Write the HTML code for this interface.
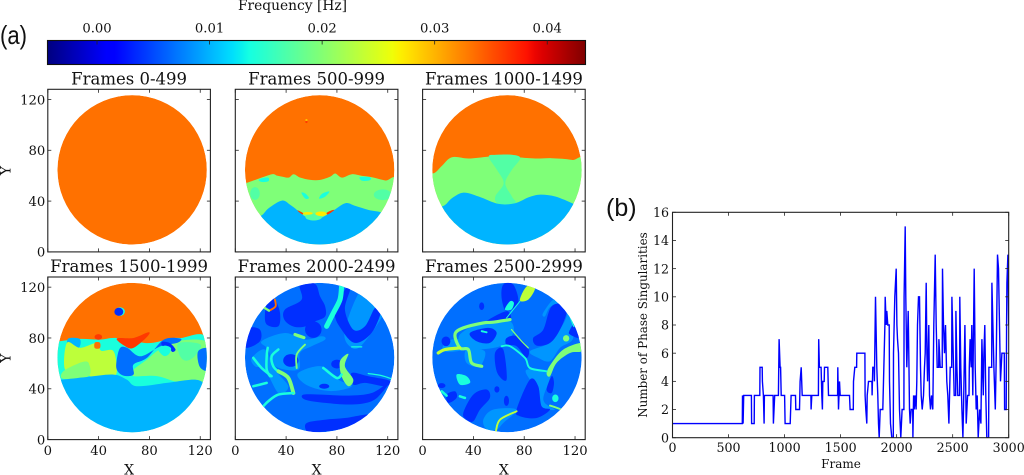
<!DOCTYPE html>
<html>
<head>
<meta charset="utf-8">
<title>Frequency maps and phase singularities</title>
<style>
html,body{margin:0;padding:0;background:#fff;width:1024px;height:475px;overflow:hidden}
svg{display:block;position:absolute;left:0;top:0}
text{font-family:"DejaVu Serif","Liberation Serif",serif;fill:#111}
.sans{font-family:"Liberation Sans","DejaVu Sans",sans-serif}
</style>
</head>
<body>
<svg id="fig" width="1024" height="475" viewBox="0 0 1024 475" xmlns="http://www.w3.org/2000/svg">
<defs id="defs"></defs>
<text class="sans" x="0" y="44" font-size="26" textLength="27" lengthAdjust="spacingAndGlyphs">(a)</text>
<text class="sans" x="606" y="216" font-size="25">(b)</text>
<text x="292.5" y="10" font-size="13.8" text-anchor="middle">Frequency [Hz]</text>
</svg>
<script>
// ---------- colour scale values ----------
var colorbarTicks = [0.00, 0.01, 0.02, 0.03, 0.04];
var colorbarRange = [-0.0044, 0.0434];

// frequency levels seen in the maps (Hz)
var ORANGE = 0.0334, REDORANGE = 0.0362, YELLOW = 0.0272, LIME = 0.0233, GREEN = 0.0197,
    TEAL = 0.0171, CYAN = 0.0138, SKY = 0.0100, LIGHT = 0.0086, BLUE = 0.0068, DARK = 0.0038;

// ---------- map panels: region outlines in data coordinates (X, Y) ----------
var panelTitles = ["Frames 0-499","Frames 500-999","Frames 1000-1499","Frames 1500-1999","Frames 2000-2499","Frames 2500-2999"];
var panelBase = [ORANGE, ORANGE, ORANGE, ORANGE, BLUE, BLUE];
var mapTicks = [0, 40, 80, 120];

var regions0 = [];

var regions1 = [
 ['p',GREEN,[0,54,7.9,54.1,18.4,57.7,28.9,61.2,32.8,60.1,36.7,59.3,42,58.5,45.9,61.2,51.2,58.5,59.1,56.7,66.9,56.7,74.8,59.3,78.7,61.7,84,58.5,91.9,61.2,99.7,59.8,107.6,58.8,118.1,56.2,128,54.6,128,0,0,0]],
 ['p',SKY,[0,27.8,18.4,27.8,26.2,34.4,36.7,40.4,43.3,37,48.6,33,55.1,27.8,61.7,24.7,69.6,27.8,76.1,31.8,86.6,38.3,94.5,36.2,105,33,115.5,30.9,128,25.2,128,0,0,0]],
 ['e',TEAL,[61.7,27.5,6.5,2.8]],
 ['e',TEAL,[15.5,46,3.8,5]],
 ['e',TEAL,[116,45,7,4.2]],
 ['e',YELLOW,[57,30.3,4,1.1]],
 ['e',YELLOW,[67.5,30,4.5,1.8]],
 ['p',REDORANGE,[49,32.8,53,30.8,53,29.5,50.5,31]],
 ['p',REDORANGE,[73,29.5,78,33,75.5,32.6,72,30.8]],
 ['p',CYAN,[18.4,56.5,21,58,26,58.4,26,55.6,21,55]],
 ['p',CYAN,[98,58.8,106,58.8,106,56.5,100,56]],
 ['p',CYAN,[52,46.5,55,46,58,42.5,55,42]],
 ['p',CYAN,[66,42,70,43,74,47,72.5,47.5,68,45.5]],
 ['e',REDORANGE,[56,102.4,0.9,1]],
 ['e',YELLOW,[56,103.8,0.9,0.6]]
];

var regions2 = [
 ['p',GREEN,[0,61.9,8.7,61.9,15.2,67.7,23.1,74.5,36.2,73.5,52,75,67.7,76.4,75.6,74.5,88.7,73.5,101.8,73.8,117.6,72.4,128,68.5,128,0,0,0]],
 ['p',TEAL,[52,75,58.5,76.4,70.3,76.4,76.9,73.8,70.3,64.6,65.1,54.1,70.3,43.6,72.9,38.3,59.8,37.8,57.2,43.6,63.8,54.1,58.5,64.6]],
 ['p',SKY,[0,35.7,15.2,35.7,23.1,42.3,32.3,46.7,44.1,43.6,59.8,37.8,72.9,38.3,83.5,43,92.7,45.1,104.5,43.6,118.9,37.8,128,33,128,0,0,0]]
];

var regions3 = [
 ['p',CYAN,[0,77.4,8.4,77.4,25.4,79.3,41.2,78.7,54.3,80,78,76,93.8,78.7,104.2,80,128,76,128,0,0,0]],
 ['p',SKY,[16,79.5,25,79.3,25,73,20,71.5,16,73]],
 ['p',LIME,[15,76.1,25.4,72.2,38.6,76.1,42,70,51.7,69.6,54.3,53.1,49.1,49.9,33.3,49.9,32,60.4,25.4,60.4,13.6,55.1]],
 ['p',GREEN,[12.3,53.8,25.4,60.4,32,60.4,32,49.9,12.3,47.8]],
 ['p',GREEN,[67.5,55,78,63,88,71,104,78,128,75,128,45,104,45,86,50,67.5,50]],
 ['p',TEAL,[103,76,120,75,116,66,109,62,104,66]],
 ['p',BLUE,[57,72.2,54.3,63,54.3,55.1,59.6,50.4,67.5,51.2,67.5,59.1,78,64.3,91.3,78.7,104.5,79.5,101.8,76.1,88.7,73.5,73,65.6,62.5,72.2]],
 ['p',DARK,[90,77,96,76,100.5,71,98,69,95,73,90,74]],
 ['p',CYAN,[87,71,92,74,97,72,95,67,91,66]],
 ['p',BLUE,[118.6,70,128,71,128,55,122,55,118.6,60]],
 ['p',SKY,[0,47,11,47.2,30.7,49.3,51.7,51.2,62.2,47.2,70,42,93.7,44.6,114.7,47.2,123,44.6,128,40,128,0,0,0]],
 ['p',ORANGE,[37,72,41,72,41,76.3,37,76.3]],
 ['p',REDORANGE,[54.3,79.5,67.5,80,79.3,84.5,78,80.8,67.5,72.2,60.9,73.5]],
 ['e',REDORANGE,[39.8,80.8,3,2.2]],
 ['e',CYAN,[56.8,100.8,3.9,3.4]],
 ['e',DARK,[55.9,100.6,3.5,3.2]]
];

var regions4 = [
 ['p',LIGHT,[99,118,110,110,118,102,101,76,92,72,86,85]],
 ['p',DARK,[86.3,118.1,78.4,99.7,83.7,86.6,94.2,76.1,107.3,84,115.2,102.4,110,103.7,102.1,89.2,92.9,86.6,86.3,102.4,90.3,118.1]],
 ['p',DARK,[50.9,122,62.7,122.7,66.7,112.8,70.7,104.9,70.7,96.9,62.7,93,54.9,89,45.7,89,38.6,94.5,39.1,102.4,52.2,110.2]],
 ['p',DARK,[26,110.2,31.2,110.2,35.2,99.7,33.9,89.2,24.7,90.6,23.4,99.7]],
 ['p',DARK,[10.2,87.9,19.4,86.6,19.4,77.4,8.9,72.2,6,78.7]],
 ['p',LIGHT,[20.7,77.4,39.1,83.9,54.9,78.7,68,81.4,70.7,78.7,60.1,73.5,50.9,68.2,49.6,55.1,31.2,57.7,26,70.9]],
 ['p',LIGHT,[49.6,52.5,68,57.7,81.1,47.2,91.6,42,78.4,38.3,65.3,39.6,53.5,44.6]],
 ['p',LIGHT,[12.9,64,23.4,70.9,31.2,55.1,41.7,41.9,33.9,36.7,23.4,55.1,15.5,57.7]],
 ['e',DARK,[61.4,86.6,6.5,6.5]],
 ['e',DARK,[43.7,62.3,6,5]],
 ['e',DARK,[80,59.5,4.5,3.5]],
 ['e',DARK,[70,42,4,2]],
 ['p',DARK,[53.5,35.4,68,35.4,89,34.6,107.3,36.7,120.5,44.6,115.2,36.7,107.3,30.2,91.6,27.6,70.7,28.9,54.9,31.5]],
 ['p',DARK,[56.2,13.1,70.7,15.7,86.3,17,104.7,19.7,96.9,13.1,81.1,7.9,62.7,5.8,56.2,6.6]],
 ['p',DARK,[91.6,52.5,104.7,49.9,121.8,46.2,117.9,42,102.1,44.6,92.9,43.3]],
 ['p',GREEN,[82.4,61.7,89,67.5,86.3,57.7,92.9,47.2,89,42,83.7,49.9]],
 ['l',CYAN,[83.7,120.5,82.4,110.2,77.2,99.7,71.9,89.2],4],
 ['l',ORANGE,[31.2,110.2,31.7,104.9,27.3,101.8],1.5],
 ['l',GREEN,[22.5,104,26.5,101.5],1.8],
 ['l',GREEN,[47,82.7,54,80.3],2.5],
 ['l',CYAN,[25.5,72.2,24.7,65.6,24.7,55.1,27.3,49.9],2],
 ['l',CYAN,[33.9,70.9,28.6,65.6,29.9,57.7,35.2,52.5],2],
 ['l',CYAN,[14.2,64.3,20.7,56.4,28.6,49.9],2],
 ['l',GREEN,[33.9,53.8,41.7,48.6,45.7,36.7],3],
 ['l',CYAN,[45.7,36.7,33.9,35.4,26,30.2,22,26.2],2],
 ['l',CYAN,[14.2,42,24.7,44.6],2],
 ['l',CYAN,[69.3,56.4,79.8,48.6,83.7,51.2],2],
 ['l',CYAN,[104.7,52,115.2,50.4,123.1,47.8],1],
 ['l',CYAN,[91.6,73,99.5,73],1],
 ['l',GREEN,[54.9,74.8,48.3,66.9,48.3,56.4],1.5]
];

var regions5 = [
 ['p',LIGHT,[29.4,82.7,42.5,90.6,55.6,91.9,68.8,93.2,71.4,84,60.9,73.5,37.3,70.9,29.4,74.8]],
 ['p',LIGHT,[34.6,70.9,49,69.5,45,57.7,34.6,60.4]],
 ['p',LIGHT,[95,100,105.5,111.5,116,99.7,118.6,80,108.2,72.2,100.3,61.7,91,64.3,84.5,69.5,100.3,76.1,108.2,86.6,113.4,99.7,101.6,105,96.3,97]],
 ['p',LIGHT,[82,55.1,100.3,52.5,95,31.5,104.2,23.6,93.7,26.2,91,42,84.5,47.2]],
 ['p',LIGHT,[47.8,15.7,55.6,23.6,74,23.6,63.5,13.1,58.3,7.9,50.4,7.9]],
 ['p',LIGHT,[18.9,77.4,29.4,78.7,32,70.9,16.3,69.5]],
 ['p',DARK,[63.5,122,71.4,122,75.3,107.6,66.1,101,62.2,111.5]],
 ['p',DARK,[50,93,66,101,69,94,56,92]],
 ['p',DARK,[87.1,80,95,86.6,101.6,105,113.4,106.3,113.4,99.7,108.2,86.6,100.3,76.1,89.8,74]],
 ['p',DARK,[115.5,85.3,120,91.9,122.6,84,122.6,80,116,82.7]],
 ['p',DARK,[37.3,84,51.7,87.9,58.3,84,53,76.1,42.5,77.4]],
 ['e',DARK,[18.4,77.4,3.5,3.8]],
 ['p',DARK,[66.1,80,74,81.4,83.2,72.2,81.9,64.3,74,73.5,66.1,74.8]],
 ['p',DARK,[57,68.2,63.5,70.9,66.1,47.2,58.8,52.5]],
 ['p',DARK,[74,23.6,84.5,47.2,91,42,93.7,26.2,100.3,23.6,89.8,17,76.6,18.4]],
 ['p',DARK,[32,21,39.9,35.4,50.4,39.4,53,32.8,45.2,23.6,39.9,14.4,34.6,15.7]],
 ['p',DARK,[18.9,35.4,25.5,38,26.8,32.8,20.2,28.9]],
 ['e',DARK,[15,42.5,3,2]],
 ['p',DARK,[97.6,39.4,101.6,49.9,103.4,44.6,101.6,36.7]],
 ['e',DARK,[66,30.5,2,4]],
 ['e',DARK,[58.5,39.5,2,2.5]],
 ['e',DARK,[46.5,105,2,3]],
 ['p',LIME,[81.9,120.5,88.5,119.2,83.2,110.2,76.6,109.7]],
 ['l',GREEN,[68.8,94.5,55.6,92.4,47.8,91.9,32,87.9,25.5,82.7,29.4,72.2,36,70.9,38.6,60.4,46.5,57.7],2.5],
 ['l',LIME,[29.4,72.2,17.6,70.9,12.3,68.2],2.5],
 ['p',GREEN,[125.2,76.1,125.2,69.5,116,68.2,105.5,60.4,100.3,49.9,97.6,52.5,101.6,60.4,110.8,70.9]],
 ['l',CYAN,[97.6,53.8,84.5,56.4,80.6,64.3,68.8,73.5,62.2,73.5],1.5],
 ['l',GREEN,[70,86.6,78,77.4,83.2,72.2],1],
 ['l',CYAN,[66.1,95.8,76.6,108.9],0.8],
 ['p',CYAN,[26.8,51.2,34.6,49.9,37.3,44.6,29.4,43.3]],
 ['p',CYAN,[64.8,102.4,68.8,108.9,71.9,107.6,70,102.4]],
 ['e',GREEN,[113,79.7,2.5,2.5]],
 ['l',LIME,[74,22.3,60.9,15.7,57.7,6.6],1.5],
 ['l',GREEN,[100.3,26.8,108.2,24.1],1.5],
 ['e',CYAN,[104.5,32.5,2.5,3]],
 ['l',CYAN,[29.4,34.1,33.3,32.8],2],
 ['l',CYAN,[15,38,18.9,34.6],2],
 ['l',CYAN,[46.5,85.3,50.4,84.5],1.5],
 ['l',CYAN,[116,97,119,89],1]
];

var panelRegions = [regions0, regions1, regions2, regions3, regions4, regions5];

// ---------- singularities chart ----------
var frameTicks = [0, 500, 1000, 1500, 2000, 2500, 3000];
var countTicks = [0, 2, 4, 6, 8, 10, 12, 14, 16];
var frames = [0,625,630,635,640,706,716,731,781,787,802,811,817,820,900,912,945,951,960,965,970,1000,1005,1050,1058,1100,1133,1139,1148,1157,1237,1243,1302,1305,1311,1326,1332,1338,1341,1356,1386,1392,1460,1475,1481,1490,1496,1579,1585,1615,1627,1645,1719,1725,1734,1737,1749,1781,1787,1802,1811,1823,1832,1838,1844,1853,1877,1883,1895,1898,1907,1912,1921,1936,1945,1957,1972,1984,1996,2002,2008,2017,2026,2037,2049,2067,2076,2082,2091,2103,2109,2115,2121,2130,2145,2151,2157,2165,2174,2180,2186,2195,2204,2213,2219,2228,2240,2249,2255,2264,2270,2276,2287,2293,2302,2311,2323,2332,2344,2353,2362,2377,2389,2409,2418,2427,2436,2448,2457,2466,2478,2493,2505,2514,2529,2538,2546,2564,2573,2582,2591,2597,2609,2621,2633,2648,2656,2665,2671,2680,2692,2701,2710,2719,2728,2740,2752,2761,2773,2779,2787,2796,2805,2823,2835,2850,2859,2868,2880,2889,2900,2909,2918,2927,2939,2963,2978,2981,2984,2993,3000];
var counts = [1,3,1,3,3,1,1,3,5,5,4,3,1,3,1,3,3,7,5,5,3,3,1,1,3,2,2,4,5,3,2,3,3,7,5,5,3,2,4,5,5,3,3,5,2,4,3,3,2,4,5,6,3,2,1,3,4,3,5,4,10,5,3,1,0,2,2,4,8,10,8,9,8,4,1,0,6,10,12,8,7,6,2,0,2,10,15,10,5,9,6,2,1,2,0,3,2,3,2,4,8,10,10,5,3,2,3,5,6,11,6,4,8,3,2,3,2,8,13,8,5,7,5,12,8,6,8,4,3,1,5,10,6,3,9,5,3,10,5,2,0,2,8,1,3,5,7,5,8,3,12,5,2,3,0,2,1,7,3,6,8,3,0,5,5,11,8,5,2,6,13,12,8,4,6,2,2,8,11,13,8];

// ---------- helpers ----------
var NS = "http://www.w3.org/2000/svg";
var fig = document.getElementById("fig");
var defs = document.getElementById("defs");

function make(tag, attrs, parent) {
  var el = document.createElementNS(NS, tag);
  for (var k in attrs) el.setAttribute(k, attrs[k]);
  (parent || fig).appendChild(el);
  return el;
}
function interp(t, pts) {
  for (var i = 1; i < pts.length; i++) {
    if (t <= pts[i][0]) {
      var a = pts[i-1], b = pts[i];
      return a[1] + (b[1]-a[1])*(t-a[0])/(b[0]-a[0]);
    }
  }
  return pts[pts.length-1][1];
}
function jet(f) {
  var t = (f - colorbarRange[0])/(colorbarRange[1]-colorbarRange[0]);
  t = Math.max(0, Math.min(1, t));
  var r = interp(t, [[0,0],[0.35,0],[0.66,1],[0.89,1],[1,0.5]]);
  var g = interp(t, [[0,0],[0.125,0],[0.375,1],[0.64,1],[0.91,0],[1,0]]);
  var b = interp(t, [[0,0.5],[0.11,1],[0.34,1],[0.65,0],[1,0]]);
  return "rgb(" + Math.round(r*255) + "," + Math.round(g*255) + "," + Math.round(b*255) + ")";
}
// smooth outline through the given screen points (Catmull-Rom)
function smoothPath(pts, closed) {
  var n = pts.length;
  function at(i) { return closed ? pts[(i+n)%n] : pts[Math.max(0, Math.min(n-1, i))]; }
  var out = "M" + pts[0][0].toFixed(1) + " " + pts[0][1].toFixed(1);
  var last = closed ? n : n-1;
  for (var i = 0; i < last; i++) {
    var p0 = at(i-1), p1 = at(i), p2 = at(i+1), p3 = at(i+2);
    out += "C" + (p1[0]+(p2[0]-p0[0])/6).toFixed(1) + " " + (p1[1]+(p2[1]-p0[1])/6).toFixed(1) + " " +
           (p2[0]-(p3[0]-p1[0])/6).toFixed(1) + " " + (p2[1]-(p3[1]-p1[1])/6).toFixed(1) + " " +
           p2[0].toFixed(1) + " " + p2[1].toFixed(1);
  }
  return out + (closed ? "Z" : "");
}

// ---------- colour bar ----------
var cbLeft = 47.5, cbRight = 585.5, cbTop = 40.5, cbBottom = 64.5;
function cbX(f) { return cbLeft + (f-colorbarRange[0])/(colorbarRange[1]-colorbarRange[0])*(cbRight-cbLeft); }
var grad = make("linearGradient", {id:"jetGrad", x1:"0", x2:"1", y1:"0", y2:"0"}, defs);
for (var s = 0; s <= 64; s++) {
  make("stop", {offset:(s/64), "stop-color":jet(colorbarRange[0]+(colorbarRange[1]-colorbarRange[0])*s/64)}, grad);
}
var cbRect = make("rect", {x:cbLeft, y:cbTop, width:cbRight-cbLeft, height:cbBottom-cbTop, fill:"url(#jetGrad)", stroke:"#111", "stroke-width":1.1});


colorbarTicks.forEach(function(v) {
  var tk = make("line", {x1:cbX(v), x2:cbX(v), y1:cbTop, y2:cbTop+4, stroke:"#222", "stroke-width":0.8});
  
  
  var lb = make("text", {x:cbX(v), y:32.5, "font-size":13.2, "text-anchor":"middle"});
  lb.textContent = v.toFixed(2);
  
  
});

// ---------- map panels ----------
var panelLefts = [47.8, 235.3, 422.6];
var panelTops = [89.3, 277];
var panelSize = 162.6;
var mapMax = 128;
var discCx = 66.4, discCy = 64.6, discR = 58.8;

function drawPanel(idx) {
  var col = idx % 3, row = Math.floor(idx/3);
  var L = panelLefts[col], T = panelTops[row], S = panelSize;
  function X(v) { return L + v/mapMax*S; }
  function Y(v) { return T + S - v/mapMax*S; }

  var clip = make("clipPath", {id:"disc"+idx}, defs);
  make("circle", {cx:X(discCx), cy:Y(discCy), r:discR/mapMax*S}, clip);

  var g = make("g", {"clip-path":"url(#disc"+idx+")"});
  
  

  var disc = make("circle", {cx:X(discCx), cy:Y(discCy), r:discR/mapMax*S, fill:jet(panelBase[idx])}, g);
  
  

  panelRegions[idx].forEach(function(r) {
    var kind = r[0], col2 = jet(r[1]), d = r[2], node;
    if (kind === 'e') {
      node = make("ellipse", {cx:X(d[0]), cy:Y(d[1]), rx:d[2]/mapMax*S, ry:d[3]/mapMax*S, fill:col2}, g);
    } else {
      var pts = [];
      for (var i = 0; i < d.length; i += 2) pts.push([X(d[i]), Y(d[i+1])]);
      if (kind === 'p') {
        node = make("path", {d:smoothPath(pts, true), fill:col2}, g);
      } else {
        node = make("path", {d:smoothPath(pts, false), fill:"none", stroke:col2, "stroke-width":r[3]*S/mapMax, "stroke-linejoin":"round", "stroke-linecap":"round"}, g);
      }
    }
    
    
  });

  var box = make("rect", {x:L, y:T, width:S, height:S, fill:"none", stroke:"#222", "stroke-width":1.1});
  
  

  mapTicks.forEach(function(v) {
    var segs = [[X(v),T+S,X(v),T+S-3.5],[X(v),T,X(v),T+3.5],[L,Y(v),L+3.5,Y(v)],[L+S,Y(v),L+S-3.5,Y(v)]];
    segs.forEach(function(q) {
      var tk = make("line", {x1:q[0], y1:q[1], x2:q[2], y2:q[3], stroke:"#222", "stroke-width":0.8});
      
      
    });
    if (col === 0) {
      var yl = make("text", {x:L-2.5, y:Y(v)+4.8, "font-size":13.2, "text-anchor":"end"});
      yl.textContent = v;
      
      
    }
    if (row === 1) {
      var xl = make("text", {x:X(v), y:T+S+15.5, "font-size":13.2, "text-anchor":"middle"});
      xl.textContent = v;
      
      
    }
  });

  var title = make("text", {x:L+S/2, y:T-5, "font-size":16.5, "text-anchor":"middle"});
  title.textContent = panelTitles[idx];
  
  

  if (row === 1) {
    var xt = make("text", {x:L+S/2, y:T+S+35, "font-size":14, "text-anchor":"middle"});
    xt.textContent = "X";
    
    
  }
  if (col === 0) {
    var yt = make("text", {x:0, y:0, "font-size":14, "text-anchor":"middle", transform:"translate(10.5,"+(T+S/2)+") rotate(-90)"});
    yt.textContent = "Y";
    
    
  }
}
for (var p = 0; p < 6; p++) drawPanel(p);

// ---------- line chart ----------
var chL = 672.5, chR = 1008.7, chT = 212.3, chB = 437.7;
var maxFrame = 3000, maxCount = 16;
function fx(v) { return chL + v/maxFrame*(chR-chL); }
function cy(v) { return chB - v/maxCount*(chB-chT); }

var d = "";
for (var i = 0; i < frames.length; i++) {
  if (i === 0) {
    d += "M" + fx(frames[i]).toFixed(1) + " " + cy(counts[i]).toFixed(1);
  } else {
    // long gaps hold the previous value and then jump; short gaps are direct spikes
    if (frames[i] - frames[i-1] > 12) d += "L" + fx(frames[i]-2).toFixed(1) + " " + cy(counts[i-1]).toFixed(1);
    d += "L" + fx(frames[i]).toFixed(1) + " " + cy(counts[i]).toFixed(1);
  }
}
var chClip = make("clipPath", {id:"chartClip"}, defs);
make("rect", {x:chL, y:chT, width:chR-chL, height:chB-chT}, chClip);
var line = make("path", {d:d, fill:"none", stroke:"#0000ff", "stroke-width":1.4, "clip-path":"url(#chartClip)", "stroke-linejoin":"miter"});



var chBox = make("rect", {x:chL, y:chT, width:chR-chL, height:chB-chT, fill:"none", stroke:"#222", "stroke-width":1.1});



frameTicks.forEach(function(v) {
  [[chB,chB-3.5],[chT,chT+3.5]].forEach(function(q) {
    var tk = make("line", {x1:fx(v), x2:fx(v), y1:q[0], y2:q[1], stroke:"#222", "stroke-width":0.8});
    
    
  });
  var lb = make("text", {x:fx(v), y:chB+14.5, "font-size":12.6, "text-anchor":"middle"});
  lb.textContent = v;
  
  
});
countTicks.forEach(function(v) {
  [[chL,chL+3.5],[chR,chR-3.5]].forEach(function(q) {
    var tk = make("line", {x1:q[0], x2:q[1], y1:cy(v), y2:cy(v), stroke:"#222", "stroke-width":0.8});
    
    
  });
  var lb = make("text", {x:chL-3.5, y:cy(v)+4.6, "font-size":12.6, "text-anchor":"end"});
  lb.textContent = v;
  
  
});
var fTitle = make("text", {x:841, y:468, "font-size":12, "text-anchor":"middle"});
fTitle.textContent = "Frame";


var cTitle = make("text", {x:0, y:0, "font-size":11.9, "text-anchor":"middle", transform:"translate(647,325) rotate(-90)"});
cTitle.textContent = "Number of Phase Singularities";


</script>
</body>
</html>
